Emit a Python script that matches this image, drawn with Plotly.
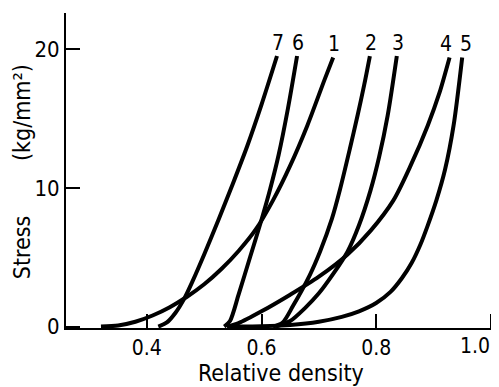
import plotly.graph_objects as go

# Relative density (x) and stress in kg/mm^2 (y) for each numbered curve
c1_x = [0.32, 0.35, 0.38, 0.41, 0.44, 0.47, 0.50, 0.53, 0.56, 0.59, 0.62, 0.65, 0.68, 0.71, 0.725]
c1_y = [0.0, 0.08, 0.35, 0.8, 1.4, 2.15, 3.05, 4.15, 5.45, 7.0, 9.1, 11.6, 14.5, 17.8, 19.4]

c2_x = [0.62, 0.637, 0.655, 0.684, 0.702, 0.723, 0.737, 0.754, 0.768, 0.779, 0.789]
c2_y = [0.0, 0.3, 1.5, 3.7, 5.4, 7.8, 9.9, 12.8, 15.3, 17.4, 19.5]

c3_x = [0.625, 0.65, 0.675, 0.70, 0.725, 0.75, 0.77, 0.79, 0.805, 0.82, 0.836]
c3_y = [0.0, 0.4, 1.3, 2.4, 3.8, 5.4, 7.3, 9.8, 12.2, 15.2, 19.5]

c4_x = [0.54, 0.56, 0.60, 0.65, 0.70, 0.75, 0.79, 0.83, 0.86, 0.89, 0.91, 0.928]
c4_y = [0.0, 0.25, 1.1, 2.3, 3.6, 5.2, 6.9, 9.1, 11.6, 14.5, 16.8, 19.4]

c5_x = [0.54, 0.60, 0.65, 0.70, 0.74, 0.77, 0.80, 0.825, 0.845, 0.862, 0.877, 0.89, 0.905, 0.92, 0.935, 0.95]
c5_y = [0.0, 0.03, 0.12, 0.35, 0.7, 1.1, 1.7, 2.5, 3.5, 4.6, 5.9, 7.3, 9.1, 11.3, 14.5, 19.4]

c6_x = [0.535, 0.545, 0.56, 0.58, 0.60, 0.615, 0.63, 0.646, 0.662]
c6_y = [0.0, 0.4, 2.3, 5.0, 7.7, 9.9, 12.4, 15.7, 19.5]

c7_x = [0.42, 0.435, 0.45, 0.465, 0.48, 0.50, 0.525, 0.55, 0.575, 0.60, 0.627]
c7_y = [0.0, 0.3, 1.0, 2.0, 3.3, 5.2, 7.7, 10.3, 13.0, 16.0, 19.5]

curve_names = ["1", "2", "3", "4", "5", "6", "7"]
curves_x = [c1_x, c2_x, c3_x, c4_x, c5_x, c6_x, c7_x]
curves_y = [c1_y, c2_y, c3_y, c4_y, c5_y, c6_y, c7_y]

x_ticks = [0.4, 0.6, 0.8, 1.0]
x_tick_text = ["0.4", "0.6", "0.8", "1.0"]
y_ticks = [0, 10, 20]
y_tick_text = ["0", "10", "20"]

FONT = "DejaVu Sans Condensed, Liberation Sans Narrow, DejaVu Sans, sans-serif"

# pixel nudges for the curve-end labels (style only)
label_nudge = {"4": -4, "5": 4}

fig = go.Figure()
for name, xs, ys in zip(curve_names, curves_x, curves_y):
    fig.add_trace(go.Scatter(
        x=xs, y=ys, mode="lines", name=name,
        line=dict(color="black", width=4, shape="spline", smoothing=0.8),
        showlegend=False, hoverinfo="skip",
    ))
    fig.add_annotation(
        x=xs[-1], y=ys[-1], text=name, showarrow=False,
        xref="x", yref="y", yanchor="bottom", xanchor="center",
        xshift=label_nudge.get(name, 1), yshift=-1,
        font=dict(family=FONT, size=21, color="black"),
    )

fig.add_annotation(
    x=0.634, y=-0.143, xref="x", yref="paper", text="Relative density",
    showarrow=False, xanchor="center", yanchor="middle",
    font=dict(family=FONT, size=23, color="black"),
)
fig.add_annotation(
    x=-0.103, y=0.257, xref="paper", yref="paper", text="Stress",
    showarrow=False, textangle=-90, xanchor="center", yanchor="middle",
    font=dict(family=FONT, size=23, color="black"),
)
fig.add_annotation(
    x=-0.103, y=0.683, xref="paper", yref="paper", text="(kg/mm²)",
    showarrow=False, textangle=-90, xanchor="center", yanchor="middle",
    font=dict(family=FONT, size=23, color="black"),
)

# the last x tick label sits at the right edge, so it is placed as an annotation
shown_x_text = x_tick_text[:-1] + [""]
fig.add_annotation(
    x=x_ticks[-1], y=0, xref="x", yref="paper", text=x_tick_text[-1],
    showarrow=False, xanchor="right", yanchor="top", xshift=1, yshift=-4,
    font=dict(family=FONT, size=21, color="black"),
)

fig.update_xaxes(
    range=[0.259, 1.002], tickvals=x_ticks, ticktext=shown_x_text,
    ticks="inside", ticklen=14, tickwidth=1.5, tickcolor="black",
    showline=True, linecolor="black", linewidth=2,
    showgrid=False, zeroline=False,
    tickfont=dict(family=FONT, size=21, color="black"),
)
fig.update_yaxes(
    range=[-0.1, 22.6], tickvals=y_ticks, ticktext=y_tick_text,
    ticks="inside", ticklen=14, tickwidth=1.5, tickcolor="black",
    showline=True, linecolor="black", linewidth=2,
    showgrid=False, zeroline=False,
    tickfont=dict(family=FONT, size=22, color="black"),
)
# The page body adds an 8 px offset; the figure is sized to fit inside the window.
fig.update_layout(
    width=491, height=379,
    margin=dict(l=58, r=7, t=5, b=59),
    plot_bgcolor="white", paper_bgcolor="white",
)
fig.write_html("out.html")
